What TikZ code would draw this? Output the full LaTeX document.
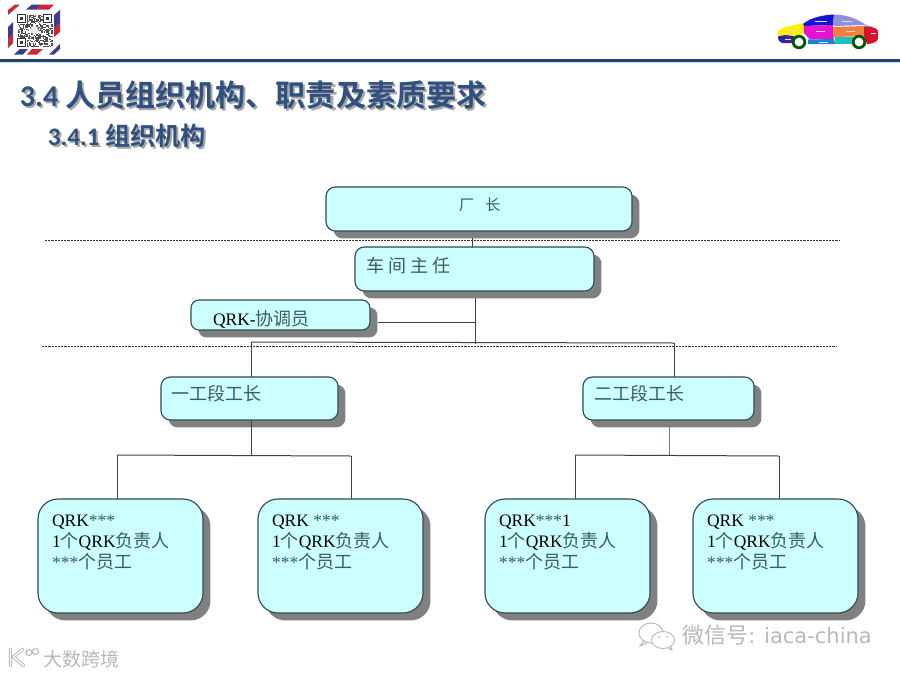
\documentclass[tikz,border=0pt]{standalone}
\usepackage{fontspec}
\setmainfont{Liberation Serif}
\newfontfamily\cjk{Noto Sans CJK SC}
\newfontfamily\cjkb{Noto Sans CJK SC Bold}
\newfontfamily\titlelatin{Carlito}[BoldFont={Carlito Bold}]
\newfontfamily\marklatin{DejaVu Sans}
\usetikzlibrary{shadows,calc}
\definecolor{panelfill}{HTML}{CCFFFF}
\definecolor{paneledge}{HTML}{2E4A52}
\definecolor{panelshadow}{HTML}{808080}
\definecolor{zhink}{HTML}{3D5A5C}
\definecolor{navy}{HTML}{2C4068}
\definecolor{titleblue}{HTML}{2F5080}
\definecolor{titleshade}{HTML}{A8A8A8}
\definecolor{markgray}{HTML}{B8B8B8}
\definecolor{mailred}{HTML}{C8283C}
\definecolor{mailblue}{HTML}{3A3C90}
\definecolor{carhood}{HTML}{FFF000}
\definecolor{carnose}{HTML}{3A20A0}
\definecolor{carroof}{HTML}{1414D2}
\definecolor{carglass}{HTML}{9090E0}
\definecolor{cardoor}{HTML}{E614D2}
\definecolor{carrear}{HTML}{F08040}
\definecolor{carsill}{HTML}{2080D0}
\definecolor{carsillb}{HTML}{20C0C0}
\definecolor{cartail}{HTML}{D8102A}
\newcommand{\fs}[2]{\fontsize{\dimexpr #1pt*3/4\relax}{\dimexpr #2pt*3/4\relax}\selectfont}
\newcommand{\zh}[1]{{\cjk\color{zhink}\fs{18}{21}#1}}
% Box content: width, height, left padding, top padding, text (all sizes in px)
\newcommand{\panelbody}[5]{\begin{minipage}[c][\dimexpr #2pt*3/4\relax][t]{\dimexpr #1pt*3/4\relax}\leftskip=\dimexpr #3pt*3/4\relax\parindent=0pt\vspace*{\dimexpr #4pt*3/4\relax}\fs{17.5}{21}#5\end{minipage}}
\newcommand{\shadowed}[1]{\rlap{\raisebox{-1.6pt}{\kern1.6pt\color{titleshade}#1}}#1}
\tikzset{
  x=0.75pt, y=-0.75pt,
  panel/.style={draw=paneledge, fill=panelfill, line width=0.85pt, rounded corners=#1, inner sep=0pt, outer sep=0pt,
    drop shadow={shadow xshift=5.6pt, shadow yshift=-5.6pt, fill=panelshadow, opacity=1}},
  link/.style={draw=black!75, line width=0.75pt},
  softlink/.style={draw=black!55!teal!60, line width=0.75pt},
  level rule/.style={draw=black!80, line width=0.55pt, dash pattern=on 1.6pt off 0.8pt},
  heading/.style={inner sep=0pt, anchor=west, text=titleblue},
  watermark/.style={inner sep=0pt, anchor=west, text=markgray},
  bubble/.style={draw=markgray, fill=white, line width=0.7pt},
}
\begin{document}
\begin{tikzpicture}
\path[use as bounding box, fill=white] (0,0) rectangle (900,675);

% header rules
\fill[navy] (0,59) rectangle (900,61.6);
\fill[blue!25!cyan!30] (0,62.3) rectangle (900,63.4);

% air-mail frame around the code
\fill[mailred]  (8,15) -- (8,10) -- (15,4.5) -- (20,4.5) -- cycle;
\fill[mailblue] (26,9.5) -- (32,4.5) -- (41,4.5) -- (36,9.5) -- cycle;
\fill[mailred]  (36,9.5) -- (41,4.5) -- (54,4.5) -- (49,9.5) -- cycle;
\fill[mailblue] (54,15) -- (60,10) -- (60,23) -- (54,28) -- cycle;
\fill[mailred]  (54,28) -- (60,23) -- (60,32) -- (54,37) -- cycle;
\fill[mailblue] (8,27) -- (13,22) -- (13,34) -- (8,39) -- cycle;
\fill[mailred]  (8,39) -- (13,34) -- (13,43) -- (8,48) -- cycle;
\fill[mailblue] (14,54.5) -- (20,49) -- (28,49) -- (23,54.5) -- cycle;
\fill[mailred]  (27,54.5) -- (32,49) -- (43,49) -- (37,54.5) -- cycle;
\fill[mailblue] (49,54.5) -- (60,44) -- (60,49) -- (54,54.5) -- cycle;

% two-dimensional code
\pgfmathsetseed{4711}
\foreach \i in {0,...,27}{
  \foreach \j in {0,...,26}{
    \pgfmathsetmacro{\cellval}{rnd}
    \ifdim\cellval pt<0.55pt
      \fill[black!70] ({17.5+\i*1.25},{14.5+\j*1.2}) rectangle ++(1.25,1.2);
    \fi
  }
}
\foreach \fx/\fy in {17/14, 43/14, 17/38}{
  \fill[white] (\fx,\fy) rectangle ++(9.5,9.5);
  \draw[black!80, line width=0.7pt] ({\fx+0.7},{\fy+0.7}) rectangle ++(7.4,7.4);
  \fill[black!80] ({\fx+3},{\fy+3}) rectangle ++(3.2,3.2);
}
\fill[white!85!gray] (34,30) circle (4);

% car emblem
\fill[carhood] (778,31) .. controls (785,26) and (795,25) .. (804,23) -- (804,33) -- (798,35.5) -- (785,35) -- (778,36.5) -- cycle;
\fill[carnose] (778,36.5) -- (785,35) -- (794,36) -- (793,43) -- (782,43) .. controls (779,42) and (778,40) .. (778,36.5) -- cycle;
\fill[carroof] (803,24) .. controls (810,18) and (822,15) .. (834,14.5) -- (833,25) -- (804,26) -- cycle;
\fill[carglass] (834,14.5) .. controls (845,14.5) and (856,18) .. (866,25) -- (835,26) -- (833,25) -- cycle;
\fill[cardoor] (804,26) -- (833,25) -- (833,39) -- (810,39.5) -- (804,33) -- cycle;
\fill[carrear] (833,27) -- (865,26) -- (866,36) -- (852,36.5) -- (835,37) -- (833,39) -- cycle;
\fill[carsill] (808,39.5) -- (834,39) -- (835,44) -- (808,44) -- cycle;
\fill[carsillb] (835,37) -- (855,37) -- (855,44) -- (835,44) -- cycle;
\fill[cartail] (864,26) .. controls (870,27) and (877,27) .. (878,31) -- (878,39) .. controls (877,42) and (872,44) .. (867,44) -- (864,36) -- cycle;
\fill[carglass] (866,25) -- (873,27) -- (864,26.5) -- cycle;
\foreach \cx in {799,859}{
  \draw[green!35!black, fill=white, line width=2.1pt] (\cx,42) circle (5.8);
}
\foreach \lx/\ly/\lw in {815/21/12, 842/21/10, 789/30/9, 816/31/9, 846/31/9, 819/42/9, 871/33/5, 785/39/6}{
  \draw[white!75!gray, line width=0.7pt] (\lx,\ly) -- ++(\lw,0);
}

% page headings
\node[heading] (pageTitle) at (19.5,96) {\fs{30.1}{30}\shadowed{{\titlelatin\bfseries 3.4 }{\cjkb 人员组织机构、职责及素质要求}}};
\node[heading] (pageSubtitle) at (47.5,137) {\fs{25.2}{25}\shadowed{{\titlelatin\bfseries 3.4.1 }{\cjkb 组织机构}}};

% level separators
\coordinate (ruleAw) at (45,240);  \coordinate (ruleAe) at (840,240);
\coordinate (ruleBw) at (42,346);  \coordinate (ruleBe) at (837,346);
\draw[level rule] (ruleAw) -- (ruleAe);
\draw[level rule] (ruleBw) -- (ruleBe);

% connector junctions
\coordinate (plantDrop) at (472,231);
\coordinate (mgrTop) at (472,248);
\coordinate (mgrDrop) at (475,291);
\coordinate (mgrFoot) at (475,344);
\coordinate (liaisonTap) at (378,322);
\coordinate (sectionBus) at (251,342);
\coordinate (sectionBusE) at (674,343);
\coordinate (busL) at (251,455);
\coordinate (busR) at (669,456);
\coordinate (crewAx) at (117,455);
\coordinate (crewBx) at (351,456);
\coordinate (crewCx) at (575,455);
\coordinate (crewDx) at (779,456);

% connectors, beneath the boxes
\draw[link] (plantDrop) -- (mgrTop);
\draw[link] (mgrDrop) -- (mgrFoot);
\draw[link] (liaisonTap) -- (liaisonTap -| mgrDrop);
\draw[link] (sectionBus) -- (sectionBusE);

% boxes
\node[panel=7pt] (plant) at (479,209) {\panelbody{306}{44}{133}{11}{\zh{\fs{15}{20}厂\hspace{0.75em}长}}};
\node[panel=7pt] (manager) at (474.5,269) {\panelbody{239}{44}{11}{10.5}{\zh{车\hspace{0.23em}间\hspace{0.23em}主\hspace{0.23em}任}}};
\node[panel=6pt] (liaison) at (280.5,315) {\panelbody{179}{30}{22}{10.5}{QRK-\zh{协调员}}};
\node[panel=7pt] (sectionA) at (249.5,398.5) {\panelbody{177}{43}{10}{8.5}{\zh{一工段工长}}};
\node[panel=7pt] (sectionB) at (668.5,398.5) {\panelbody{171}{43}{11}{8.5}{\zh{二工段工长}}};
\node[panel=15pt] (crewA) at (120.5,556) {\panelbody{165}{114}{14}{15.5}{QRK{\color{zhink}***}\\1\zh{个}QRK\zh{负责人}\\{\color{zhink}***}\zh{个员工}}};
\node[panel=15pt] (crewB) at (340.5,556) {\panelbody{165}{114}{14}{15.5}{QRK {\color{zhink}***}\\1\zh{个}QRK\zh{负责人}\\{\color{zhink}***}\zh{个员工}}};
\node[panel=15pt] (crewC) at (567.5,556) {\panelbody{165}{114}{14}{15.5}{QRK{\color{zhink}***}1\\1\zh{个}QRK\zh{负责人}\\{\color{zhink}***}\zh{个员工}}};
\node[panel=15pt] (crewD) at (775.5,556) {\panelbody{165}{114}{14}{15.5}{QRK {\color{zhink}***}\\1\zh{个}QRK\zh{负责人}\\{\color{zhink}***}\zh{个员工}}};

% branches into the sections and crews
\draw[link] (sectionBus) -- (sectionBus |- sectionA.north);
\draw[link] (sectionBusE) -- (sectionBusE |- sectionB.north);
\draw[link] (busL |- sectionA.south) -- (busL);
\draw[link] (crewAx) -- (crewBx);
\draw[link] (crewAx) -- (crewAx |- crewA.north);
\draw[link] (crewBx) -- (crewBx |- crewB.north);
\draw[softlink] (busR |- sectionB.south) -- (busR);
\draw[link] (crewCx) -- (crewDx);
\draw[link] (crewCx) -- (crewCx |- crewC.north);
\draw[link] (crewDx) -- (crewDx |- crewD.north);

% marks along the bottom edge
\path[draw=markgray, line width=2.4pt, line cap=round, line join=round]
  (10.5,649) -- (10.5,666) (23,649) -- (13.5,657) -- (24,666);
\path[draw=white, line width=1pt, line cap=round, line join=round]
  (10.5,649) -- (10.5,666) (23,649) -- (13.5,657) -- (24,666);
\draw[markgray, line width=0.8pt] (29,652.5) circle (3) (35.5,651.5) circle (3);
\node[watermark] (platformMark) at (43,659) {\cjk\fs{19}{19}大数跨境};
\draw[bubble] (651,633) ellipse (12 and 10);
\draw[markgray, line width=0.7pt] (644,641) -- (640,646) -- (647,643);
\draw[bubble] (663,640) ellipse (11.5 and 8.5);
\draw[markgray, line width=0.7pt] (668,648) -- (672,650) -- (671,646.5);
\fill[markgray] (659,637) circle (1) (667,637) circle (1);
\node[watermark] (accountMark) at (682,635) {\fs{21}{21}{\cjk\fs{22}{22}微信号}{\marklatin : iaca-china}};
\end{tikzpicture}
\end{document}
